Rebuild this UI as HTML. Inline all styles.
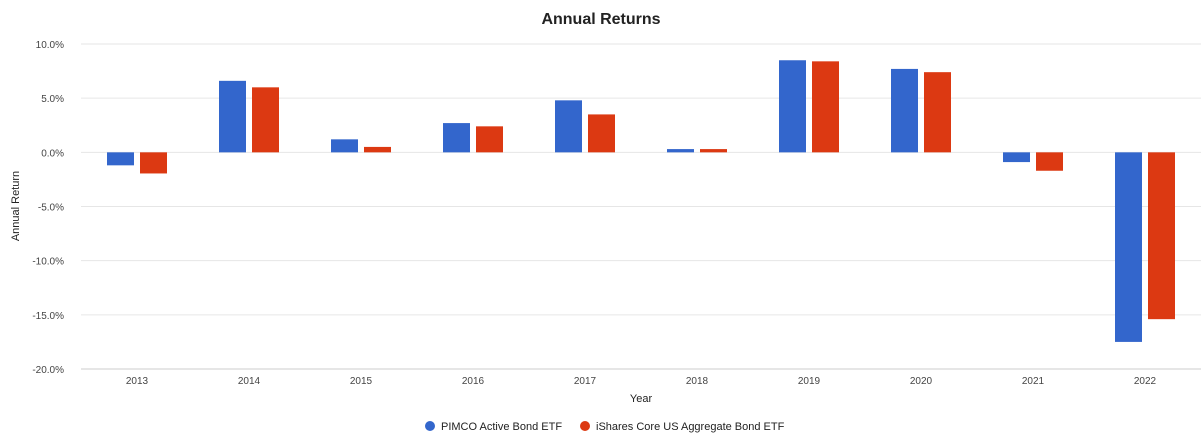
<!DOCTYPE html>
<html><head><meta charset="utf-8"><style>
body{margin:0;background:#fff;font-family:"Liberation Sans",Arial,sans-serif;}
svg text{font-family:"Liberation Sans",Arial,sans-serif;}
</style></head><body>
<svg id="chart" width="1203" height="442" xmlns="http://www.w3.org/2000/svg">
<text x="601" y="24" text-anchor="middle" font-size="16" font-weight="bold" fill="#222">Annual Returns</text>
<text transform="translate(19,206) rotate(-90)" text-anchor="middle" font-size="11" fill="#222">Annual Return</text>
<text x="641" y="402" text-anchor="middle" font-size="11" fill="#222">Year</text>
<g id="grid"></g><g id="bars"></g><g id="xl"></g>
<g>
<g><circle cx="430" cy="426" r="5" fill="#3366cc"/><text x="441" y="430" font-size="11" fill="#222">PIMCO Active Bond ETF</text></g>
<g><circle cx="585" cy="426" r="5" fill="#dc3912"/><text x="596" y="430" font-size="11" fill="#222">iShares Core US Aggregate Bond ETF</text></g>
</g>
</svg>
<script>
const years=["2013","2014","2015","2016","2017","2018","2019","2020","2021","2022"];
const pimco=[-1.2,6.6,1.2,2.7,4.8,0.3,8.5,7.7,-0.9,-17.5];
const ishares=[-1.95,6.0,0.5,2.4,3.5,0.3,8.4,7.4,-1.7,-15.4];
const ticks=[10,5,0,-5,-10,-15,-20];
const NS="http://www.w3.org/2000/svg";
const x0=81,x1=1201,yTop=44,yBot=369,vMax=10,vMin=-20;
const y=v=>yTop+(vMax-v)/(vMax-vMin)*(yBot-yTop);
const band=(x1-x0)/years.length;
const xc=i=>x0+band*(i+0.5);
function mk(t,a,p){const e=document.createElementNS(NS,t);for(const k in a)e.setAttribute(k,a[k]);p.appendChild(e);return e;}
const grid=document.getElementById('grid');
ticks.forEach(t=>{
 const l=mk('line',{x1:x0,x2:x1,y1:y(t),y2:y(t),stroke:t===-20?'#ccc':'#e6e6e6','stroke-width':1},grid);
 
 
 const tx=mk('text',{x:64,y:y(t)+4,'text-anchor':'end','font-size':10,fill:'#444'},grid);
 tx.textContent=t.toFixed(1)+'%';
 
 
});
const bars=document.getElementById('bars'),xl=document.getElementById('xl');
const bw=27,gap=6;
years.forEach((yr,i)=>{
 [[pimco,'#3366cc',-1],[ishares,'#dc3912',1]].forEach(([arr,c,s])=>{
  const v=arr[i];const bx=s<0?xc(i)-gap/2-bw:xc(i)+gap/2;
  const r=mk('rect',{x:bx,y:Math.min(y(v),y(0)),width:bw,height:Math.abs(y(v)-y(0)),fill:c},bars);
  
  
 });
 const t=mk('text',{x:xc(i),y:384,'text-anchor':'middle','font-size':10,fill:'#444'},xl);
 t.textContent=yr;
 
 
});
</script>
</body></html>
